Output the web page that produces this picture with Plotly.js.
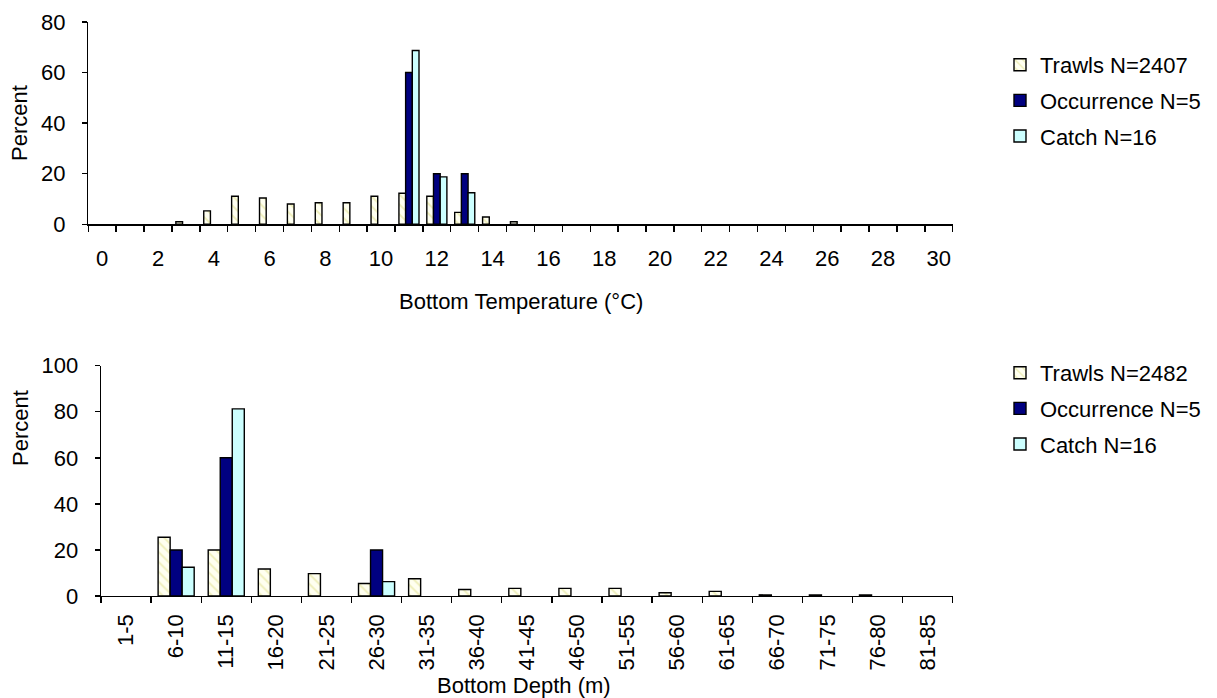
<!DOCTYPE html>
<html>
<head>
<meta charset="utf-8">
<script src="https://cdn.plot.ly/plotly-3.0.1.min.js"></script>
<style>html,body{margin:0;padding:0;background:#fff;}#chart{width:1217px;height:698px;}</style>
</head>
<body>
<div id="chart"></div>
<script>
// ---- Data: bottom temperature ----
const tempCategories = ['0','1','2','3','4','5','6','7','8','9','10','11','12','13','14','15','16','17','18','19','20','21','22','23','24','25','26','27','28','29','30'];
const tempTickLabels = ['0','2','4','6','8','10','12','14','16','18','20','22','24','26','28','30'];
const tempTrawls     = [null,null,null,1.0,5.3,11.1,10.4,8.0,8.5,8.5,11.1,12.3,11.1,4.7,2.9,1.0,null,null,null,null,null,null,null,null,null,null,null,null,null,null,null];
const tempOccurrence = [null,null,null,null,null,null,null,null,null,null,null,60,20,20,null,null,null,null,null,null,null,null,null,null,null,null,null,null,null,null,null];
const tempCatch      = [null,null,null,null,null,null,null,null,null,null,null,68.75,18.75,12.5,null,null,null,null,null,null,null,null,null,null,null,null,null,null,null,null,null];

// ---- Data: bottom depth ----
const depthCategories = ['1-5','6-10','11-15','16-20','21-25','26-30','31-35','36-40','41-45','46-50','51-55','56-60','61-65','66-70','71-75','76-80','81-85'];
const depthTrawls     = [null,25.5,20,11.7,9.7,5.4,7.5,2.8,3.3,3.3,3.3,1.4,2.0,0.5,0.5,0.5,null];
const depthOccurrence = [null,20,60,null,null,20,null,null,null,null,null,null,null,null,null,null,null];
const depthCatch      = [null,12.5,81.25,null,null,6.25,null,null,null,null,null,null,null,null,null,null,null];

const legendTop = ['Trawls N=2407','Occurrence N=5','Catch N=16'];
const legendBottom = ['Trawls N=2482','Occurrence N=5','Catch N=16'];
const titleTempX = 'Bottom Temperature (°C)';
const titleDepthX = 'Bottom Depth (m)';
const titleY = 'Percent';

const FONT = 'Liberation Sans, Arial, sans-serif';
const FS = 22;
const outline = {color:'#000000', width:1.4};
const trawlMarker = {color:'#FFFFF0', line:outline, pattern:{shape:'\\', fgcolor:'#EEEEB8', bgcolor:'#FFFFF0', size:7, solidity:0.25}};
const occMarker = {color:'#000080', line:outline};
const catchMarker = {color:'#CCFFFF', line:outline};

const traces = [
  {type:'bar', x:tempCategories, y:tempTrawls, name:legendTop[0], marker:trawlMarker, xaxis:'x', yaxis:'y', legend:'legend', legendgroup:'a1', hoverinfo:'skip'},
  {type:'bar', x:tempCategories, y:tempOccurrence, name:legendTop[1], marker:occMarker, xaxis:'x', yaxis:'y', legend:'legend', legendgroup:'a2', hoverinfo:'skip'},
  {type:'bar', x:tempCategories, y:tempCatch, name:legendTop[2], marker:catchMarker, xaxis:'x', yaxis:'y', legend:'legend', legendgroup:'a3', hoverinfo:'skip'},
  {type:'bar', x:depthCategories, y:depthTrawls, name:legendBottom[0], marker:trawlMarker, xaxis:'x2', yaxis:'y2', legend:'legend2', legendgroup:'b1', hoverinfo:'skip'},
  {type:'bar', x:depthCategories, y:depthOccurrence, name:legendBottom[1], marker:occMarker, xaxis:'x2', yaxis:'y2', legend:'legend2', legendgroup:'b2', hoverinfo:'skip'},
  {type:'bar', x:depthCategories, y:depthCatch, name:legendBottom[2], marker:catchMarker, xaxis:'x2', yaxis:'y2', legend:'legend2', legendgroup:'b3', hoverinfo:'skip'}
];

const W = 1217, H = 698;
const px = v => v / W;
const py = v => 1 - v / H;

const tickFont = {family:FONT, size:FS, color:'#000'};
const axisCommon = {showline:true, linecolor:'#000', linewidth:1.4, ticks:'outside', tickcolor:'#000', tickwidth:1.4, showgrid:false, zeroline:false, tickfont:tickFont, fixedrange:true};

const legendCommon = {xanchor:'left', yanchor:'top', bgcolor:'rgba(0,0,0,0)', font:{family:FONT, size:FS, color:'#000'}, itemwidth:30, tracegroupgap:4, traceorder:'grouped'};

const layout = {
  width:W, height:H,
  margin:{l:0, r:0, t:0, b:0},
  paper_bgcolor:'#fff', plot_bgcolor:'#fff',
  font:{family:FONT, size:FS, color:'#000'},
  barmode:'group', bargap:0.28, bargroupgap:0,
  showlegend:true,
  xaxis: Object.assign({}, axisCommon, {
    domain:[px(88.3), px(952.7)], anchor:'y', type:'category',
    tickson:'boundaries', ticklen:6, tickangle:0, ticklabelstandoff:14,
    tickmode:'array', tickvals:tempCategories,
    ticktext:tempCategories.map(c => tempTickLabels.includes(c) ? c : '')
  }),
  yaxis: Object.assign({}, axisCommon, {
    domain:[py(224.3), py(22)], anchor:'x', range:[0,80], dtick:20, ticklen:5, ticklabelstandoff:12
  }),
  xaxis2: Object.assign({}, axisCommon, {
    domain:[px(101), px(952.7)], anchor:'y2', type:'category',
    tickson:'boundaries', ticklen:6, tickangle:-90, ticklabelstandoff:8
  }),
  yaxis2: Object.assign({}, axisCommon, {
    domain:[py(596), py(365.7)], anchor:'x2', range:[0,100], dtick:20, ticklen:5, ticklabelstandoff:12
  }),
  legend: Object.assign({}, legendCommon, {x:px(1000), y:py(44)}),
  legend2: Object.assign({}, legendCommon, {x:px(1000), y:py(352)}),
  annotations:[
    {text:titleY, xref:'paper', yref:'paper', x:px(20), y:py(123), textangle:-90, showarrow:false, xanchor:'center', yanchor:'middle', font:{family:FONT, size:FS, color:'#000'}},
    {text:titleY, xref:'paper', yref:'paper', x:px(20), y:py(428), textangle:-90, showarrow:false, xanchor:'center', yanchor:'middle', font:{family:FONT, size:FS, color:'#000'}},
    {text:titleTempX, xref:'paper', yref:'paper', x:px(521), y:py(301), showarrow:false, xanchor:'center', yanchor:'middle', font:{family:FONT, size:FS, color:'#000'}},
    {text:titleDepthX, xref:'paper', yref:'paper', x:px(524), y:py(685), showarrow:false, xanchor:'center', yanchor:'middle', font:{family:FONT, size:FS, color:'#000'}}
  ]
};

Plotly.newPlot('chart', traces, layout, {displayModeBar:false, staticPlot:true});
</script>
</body>
</html>
